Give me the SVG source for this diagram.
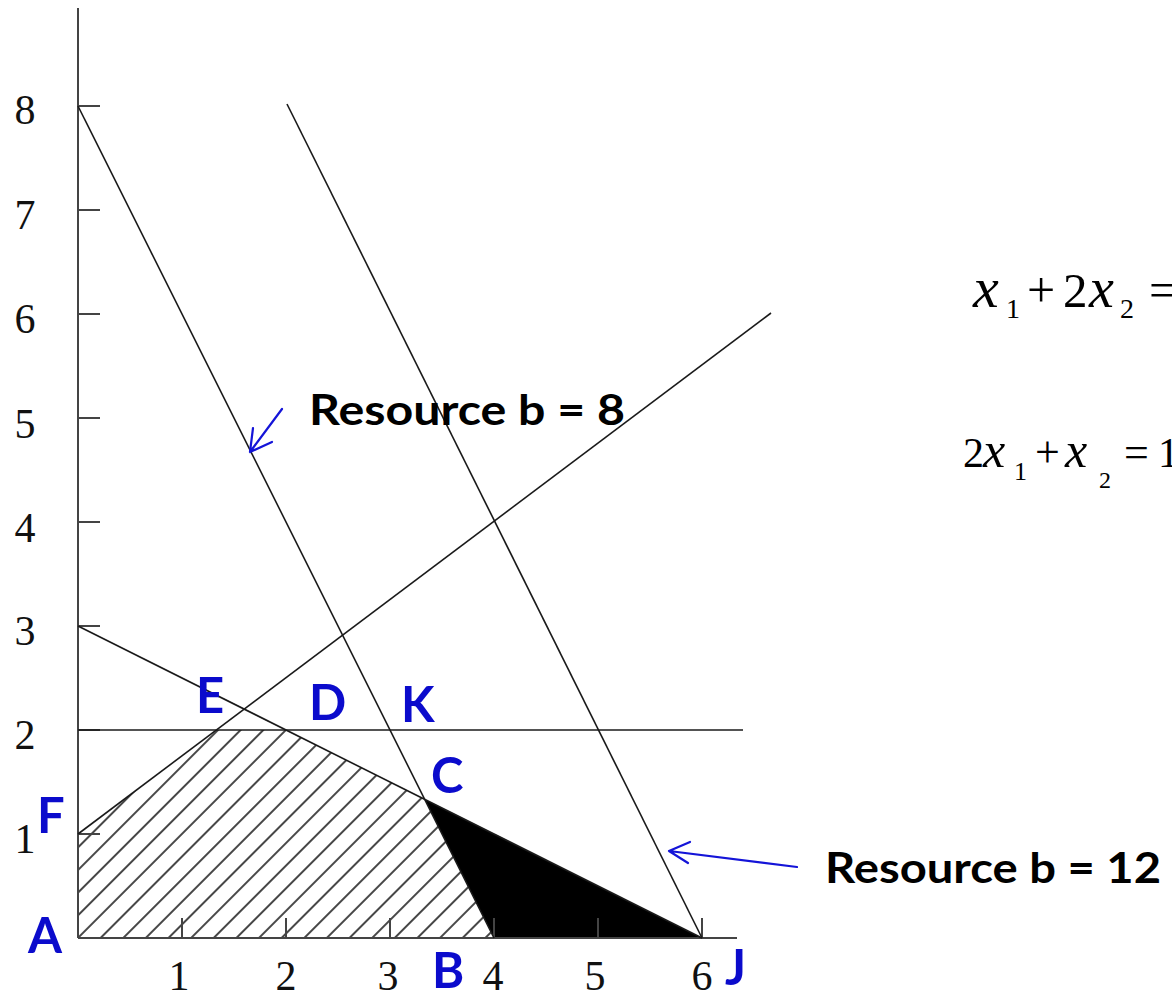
<svg xmlns="http://www.w3.org/2000/svg" width="1172" height="997" viewBox="0 0 1172 997">
<style>
.ax{stroke:#444;stroke-width:2;fill:none}
.ln{stroke:#1a1a1a;stroke-width:1.6;fill:none}
.num{font-family:"Liberation Serif",serif;font-size:42px;fill:#111}
.lbl{font-family:Lato,"Liberation Sans",sans-serif;font-weight:bold;font-size:49px;fill:#0b0bcc}
.res{font-family:Lato,"Liberation Sans",sans-serif;font-weight:bold;font-size:42px;fill:#000}
.eq{font-family:"Liberation Serif",serif;fill:#000}
.arr{stroke:#1414d8;stroke-width:2.2;fill:none;stroke-linecap:round;stroke-linejoin:round}
</style>
<defs>
<pattern id="hatch" patternUnits="userSpaceOnUse" width="16" height="16" patternTransform="translate(9,0) rotate(45)">
<line x1="8" y1="-2" x2="8" y2="18" stroke="#262626" stroke-width="1.7"/>
</pattern>
</defs>
<rect width="1172" height="997" fill="#fff"/>
<g id="regions">
<polygon id="hatched" points="78,938 78,834 216.7,730 286,730 424.7,799.3 494,938" fill="url(#hatch)"/>
<polygon id="black" points="424.7,799.3 494,938 702,938" fill="#000"/>
</g>
<g id="axes">
<line class="ax" x1="78" y1="8" x2="78" y2="938"/>
<line class="ax" x1="78" y1="938" x2="737" y2="938"/>
<path class="ax" d="M78 106h22M78 210h22M78 314h22M78 418h22M78 522h22M78 626h22M78 730h22M78 834h22"/>
<path class="ax" d="M182 938v-20M286 938v-20M390 938v-20M494 938v-20M598 938v-20M702 938v-20"/>
<g class="num" text-anchor="middle">
<text x="25" y="124">8</text>
<text x="25" y="229">7</text>
<text x="25" y="333">6</text>
<text x="25" y="438">5</text>
<text x="25" y="542">4</text>
<text x="25" y="645">3</text>
<text x="25" y="749">2</text>
<text x="25" y="853">1</text>
<text x="179" y="990">1</text>
<text x="286" y="990">2</text>
<text x="388" y="990">3</text>
<text x="493" y="990">4</text>
<text x="595" y="990">5</text>
<text x="702" y="990">6</text>
</g>
</g>
<g id="connectors">
<line class="ln" x1="78" y1="106" x2="494" y2="938"/>
<line class="ln" x1="287" y1="104" x2="702" y2="938"/>
<line class="ln" x1="78" y1="626" x2="702" y2="938"/>
<line class="ln" x1="78" y1="834" x2="771" y2="313"/>
<line class="ln" x1="78" y1="730" x2="743" y2="730"/>
<path class="arr" d="M282 409L250 452M253 428L250 452L272 442"/>
<path class="arr" d="M797 867L669 851M690 842L669 851L688 863"/>
</g>
<g id="labels">
<text class="lbl" x="196" y="713">E</text>
<text class="lbl" x="309" y="720">D</text>
<text class="lbl" x="401" y="722">K</text>
<text class="lbl" x="431" y="793">C</text>
<text class="lbl" x="37" y="833">F</text>
<text class="lbl" x="28" y="953">A</text>
<text class="lbl" x="432" y="988">B</text>
<text class="lbl" x="725" y="985">J</text>
</g>
<g id="resource8"><text class="res" x="309" y="425" textLength="316" lengthAdjust="spacingAndGlyphs">Resource b = 8</text></g>
<g id="resource12"><text class="res" x="825" y="883" textLength="336" lengthAdjust="spacingAndGlyphs">Resource b = 12</text></g>
<g id="eq1" class="eq">
<text x="973" y="307" font-size="58" font-style="italic">x</text>
<text x="1006" y="318" font-size="28">1</text>
<text x="1027" y="307" font-size="50">+</text>
<text x="1063" y="307" font-size="49">2</text>
<text x="1089" y="307" font-size="56" font-style="italic">x</text>
<text x="1120" y="318" font-size="28">2</text>
<text x="1149" y="307" font-size="50">=</text>
</g>
<g id="eq2" class="eq">
<text x="963" y="467" font-size="42">2</text>
<text x="983" y="467" font-size="50" font-style="italic">x</text>
<text x="1014" y="480" font-size="26">1</text>
<text x="1035" y="467" font-size="44">+</text>
<text x="1065" y="467" font-size="50" font-style="italic">x</text>
<text x="1099" y="488" font-size="24">2</text>
<text x="1124" y="467" font-size="44">=</text>
<text x="1158" y="467" font-size="42">1</text>
</g>
</svg>
